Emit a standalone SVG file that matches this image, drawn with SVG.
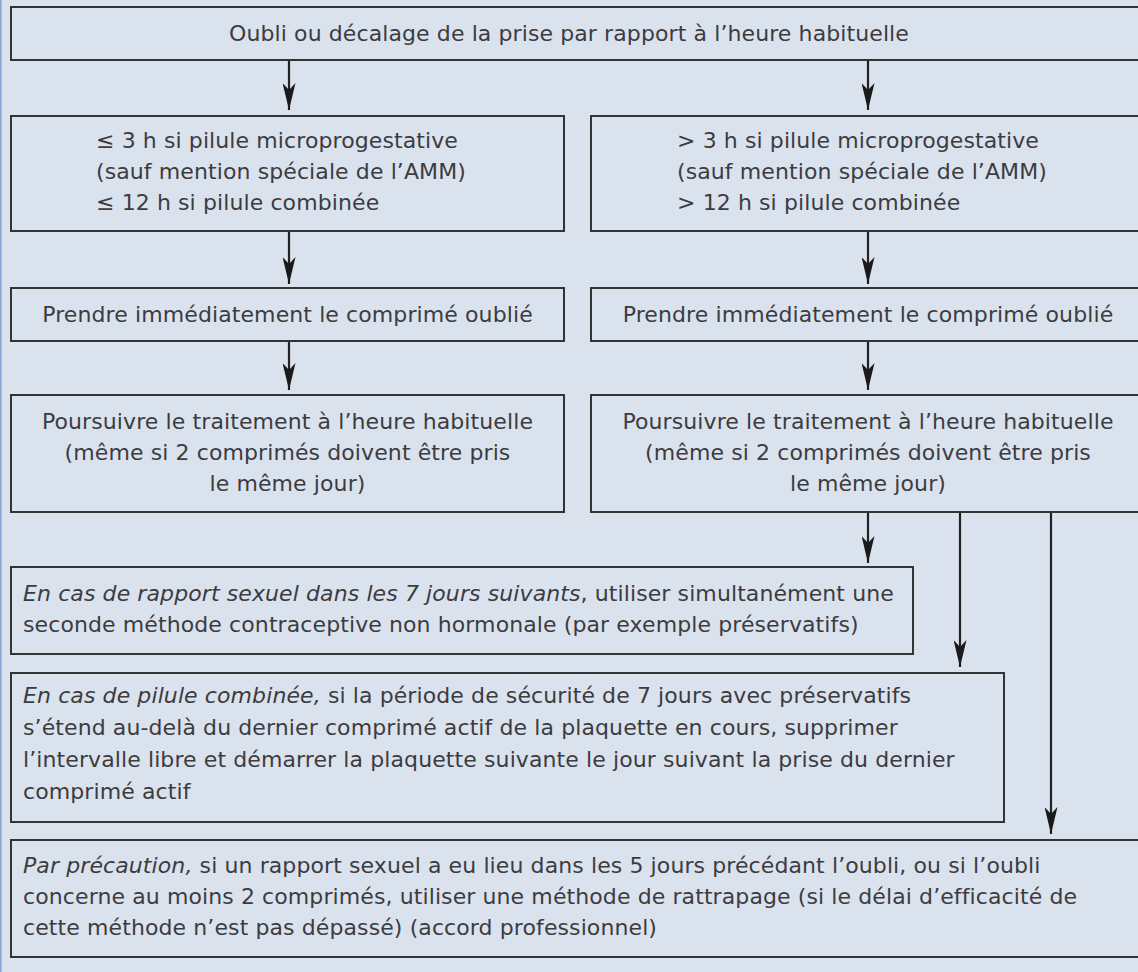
<svg xmlns="http://www.w3.org/2000/svg" width="1138" height="972" viewBox="0 0 1138 972">
<defs>
<style>
.box{fill:#dae2ee;stroke:#333;stroke-width:2}
.t{font-family:"DejaVu Sans","Liberation Sans",sans-serif;font-size:22px;letter-spacing:0.1px;fill:#3c3c40}
.c{text-anchor:middle}
.i{font-style:italic}
.ln{stroke:#222;stroke-width:2.2;fill:none}
</style>
<marker id="ah" viewBox="0 0 27 13" refX="27" refY="6.5" markerWidth="27" markerHeight="13" markerUnits="userSpaceOnUse" orient="auto">
<path d="M27,6.5 L0,0 L7,6.5 L0,13 Z" fill="#1a1a1a"/>
</marker>
</defs>
<rect x="0" y="0" width="1138" height="972" fill="#dae2ee"/>
<line x1="0.8" y1="0" x2="0.8" y2="972" stroke="#8aa6d2" stroke-width="1.6"/>

<g id="connectors">
<line class="ln" x1="289" y1="60" x2="289" y2="110" marker-end="url(#ah)"/>
<line class="ln" x1="868" y1="60" x2="868" y2="110" marker-end="url(#ah)"/>
<line class="ln" x1="289" y1="231" x2="289" y2="284" marker-end="url(#ah)"/>
<line class="ln" x1="868" y1="231" x2="868" y2="284" marker-end="url(#ah)"/>
<line class="ln" x1="289" y1="341" x2="289" y2="390" marker-end="url(#ah)"/>
<line class="ln" x1="868" y1="341" x2="868" y2="390" marker-end="url(#ah)"/>
<line class="ln" x1="868" y1="512" x2="868" y2="563" marker-end="url(#ah)"/>
<line class="ln" x1="960" y1="512" x2="960" y2="667" marker-end="url(#ah)"/>
<line class="ln" x1="1051" y1="512" x2="1051" y2="834" marker-end="url(#ah)"/>
</g>

<g id="n-top">
<rect class="box" x="11" y="7" width="1140" height="53"/>
<text class="t c" x="569" y="41">Oubli ou décalage de la prise par rapport à l’heure habituelle</text>
</g>

<g id="n-l1">
<rect class="box" x="11" y="116" width="553" height="115"/>
<text class="t" x="96" y="148">≤ 3 h si pilule microprogestative</text>
<text class="t" x="96" y="179">(sauf mention spéciale de l’AMM)</text>
<text class="t" x="96" y="210">≤ 12 h si pilule combinée</text>
</g>

<g id="n-r1">
<rect class="box" x="591" y="116" width="560" height="115"/>
<text class="t" x="677" y="148">&gt; 3 h si pilule microprogestative</text>
<text class="t" x="677" y="179">(sauf mention spéciale de l’AMM)</text>
<text class="t" x="677" y="210">&gt; 12 h si pilule combinée</text>
</g>

<g id="n-l2">
<rect class="box" x="11" y="288" width="553" height="53"/>
<text class="t c" x="287.5" y="322">Prendre immédiatement le comprimé oublié</text>
</g>

<g id="n-r2">
<rect class="box" x="591" y="288" width="560" height="53"/>
<text class="t c" x="868" y="322">Prendre immédiatement le comprimé oublié</text>
</g>

<g id="n-l3">
<rect class="box" x="11" y="395" width="553" height="117"/>
<text class="t c" x="287.5" y="429">Poursuivre le traitement à l’heure habituelle</text>
<text class="t c" x="287.5" y="460">(même si 2 comprimés doivent être pris</text>
<text class="t c" x="287.5" y="491">le même jour)</text>
</g>

<g id="n-r3">
<rect class="box" x="591" y="395" width="560" height="117"/>
<text class="t c" x="868" y="429">Poursuivre le traitement à l’heure habituelle</text>
<text class="t c" x="868" y="460">(même si 2 comprimés doivent être pris</text>
<text class="t c" x="868" y="491">le même jour)</text>
</g>

<g id="n-a">
<rect class="box" x="11" y="567" width="902" height="87"/>
<text class="t" x="23" y="601"><tspan class="i">En cas de rapport sexuel dans les 7 jours suivants</tspan>, utiliser simultanément une</text>
<text class="t" x="23" y="632">seconde méthode contraceptive non hormonale (par exemple préservatifs)</text>
</g>

<g id="n-b">
<rect class="box" x="11" y="673" width="993" height="149"/>
<text class="t" x="23" y="703"><tspan class="i">En cas de pilule combinée,</tspan> si la période de sécurité de 7 jours avec préservatifs</text>
<text class="t" x="23" y="735">s’étend au-delà du dernier comprimé actif de la plaquette en cours, supprimer</text>
<text class="t" x="23" y="767">l’intervalle libre et démarrer la plaquette suivante le jour suivant la prise du dernier</text>
<text class="t" x="23" y="799">comprimé actif</text>
</g>

<g id="n-c">
<rect class="box" x="11" y="840" width="1140" height="117"/>
<text class="t" x="23" y="873"><tspan class="i">Par précaution,</tspan> si un rapport sexuel a eu lieu dans les 5 jours précédant l’oubli, ou si l’oubli</text>
<text class="t" x="23" y="904">concerne au moins 2 comprimés, utiliser une méthode de rattrapage (si le délai d’efficacité de</text>
<text class="t" x="23" y="935">cette méthode n’est pas dépassé) (accord professionnel)</text>
</g>
</svg>
